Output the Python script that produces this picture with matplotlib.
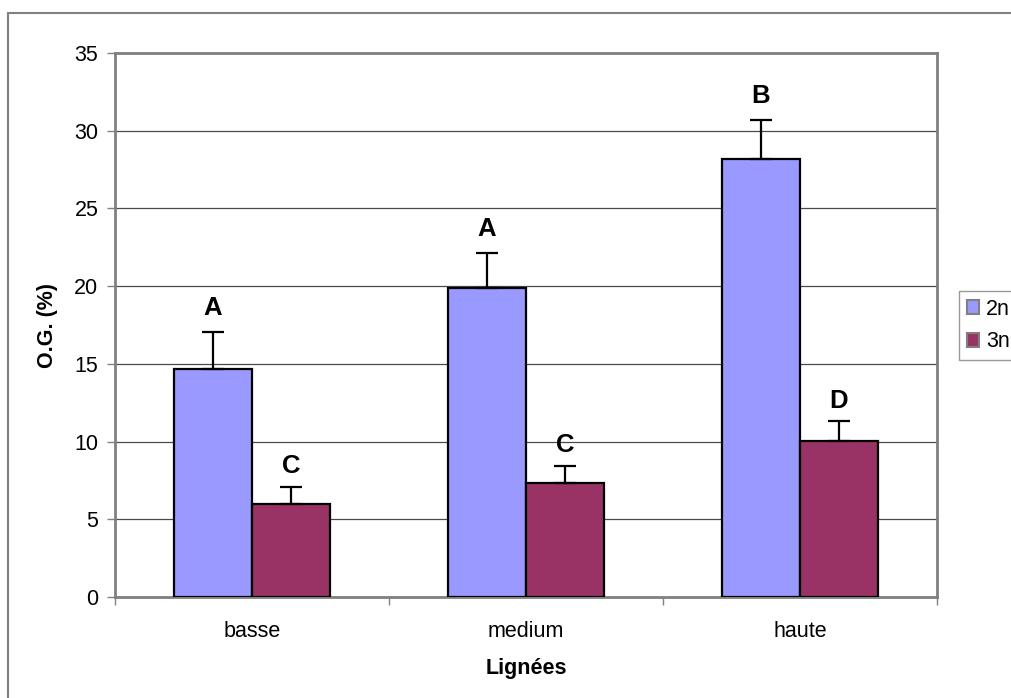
import matplotlib
matplotlib.use("Agg")
import matplotlib.pyplot as plt
from matplotlib.patches import Rectangle, Patch
import numpy as np

plt.rcParams['font.family'] = ['Liberation Sans', 'DejaVu Sans']

# Data
categories = ["basse", "medium", "haute"]
series_names = ["2n", "3n"]
values_2n = [14.7, 19.9, 28.15]
values_3n = [6.0, 7.35, 10.05]
err_2n = [2.35, 2.25, 2.55]
err_3n = [1.1, 1.1, 1.25]
letters_2n = ["A", "A", "B"]
letters_3n = ["C", "C", "D"]
yticks = [0, 5, 10, 15, 20, 25, 30, 35]

W, H = 1012, 698
fig = plt.figure(figsize=(W / 100, H / 100), dpi=100)

# Outer chart frame
fig.patches.append(Rectangle((8 / W, -0.1), 1.2, (H - 13) / H + 0.1,
                             transform=fig.transFigure, fill=False,
                             edgecolor="#808080", linewidth=1.5))

ax = fig.add_axes([115 / W, (H - 597) / H, 822 / W, 544 / H])

x = np.arange(len(categories))
bw = 0.285
c2, c3 = "#9999FF", "#993366"

ax.bar(x - bw / 2, values_2n, bw, color=c2, edgecolor="black", linewidth=1.6, zorder=3)
ax.bar(x + bw / 2, values_3n, bw, color=c3, edgecolor="black", linewidth=1.6, zorder=3)

ekw = dict(fmt="none", ecolor="black", elinewidth=1.6, capsize=8, capthick=1.6, zorder=4)
ax.errorbar(x - bw / 2, values_2n, yerr=[np.zeros(3), err_2n], **ekw)
ax.errorbar(x + bw / 2, values_3n, yerr=[np.zeros(3), err_3n], **ekw)

for xi, v, e, t in zip(x - bw / 2, values_2n, err_2n, letters_2n):
    ax.annotate(t, (xi, v + e), xytext=(0, 17), textcoords="offset points",
                ha="center", va="center", fontsize=18.5, fontweight="bold", zorder=5)
for xi, v, e, t in zip(x + bw / 2, values_3n, err_3n, letters_3n):
    ax.annotate(t, (xi, v + e), xytext=(0, 15), textcoords="offset points",
                ha="center", va="center", fontsize=18.5, fontweight="bold", zorder=5)

ax.set_xlim(-0.5, len(categories) - 0.5)
ax.set_ylim(0, 35)
ax.set_yticks(yticks)
ax.set_yticklabels([str(t) for t in yticks], fontsize=15.5)
ax.yaxis.grid(True, color="#4a4a4a", linewidth=0.9, zorder=0)
ax.set_axisbelow(True)

# Category boundaries carry the ticks, labels sit at the centres
ax.set_xticks(np.arange(-0.5, len(categories), 1.0))
ax.set_xticklabels([])
ax.set_xticks(x, minor=True)
ax.set_xticklabels(categories, minor=True, fontsize=15.5)
ax.tick_params(axis="x", which="minor", length=0, pad=17)
ax.tick_params(axis="x", which="major", length=6, color="#808080", width=1)
ax.tick_params(axis="y", length=6, color="#808080", width=1, pad=6)

for s in ax.spines.values():
    s.set_color("#808080")
    s.set_linewidth(2)

ax.set_xlabel("Lignées", fontsize=15.5, fontweight="bold", labelpad=12)
ax.set_ylabel("O.G. (%)", fontsize=15.5, fontweight="bold", labelpad=12)

handles = [Patch(facecolor=c2, edgecolor="#808080", linewidth=1.5),
           Patch(facecolor=c3, edgecolor="#808080", linewidth=1.5)]
leg = fig.legend(handles, series_names, loc="upper left",
                 bbox_to_anchor=(959 / W, 1 - 291 / H), fontsize=15.5,
                 frameon=True, fancybox=False, handlelength=0.6, handleheight=0.6,
                 handletextpad=0.3, borderpad=0.35, labelspacing=0.55, borderaxespad=0)
leg.get_frame().set_edgecolor("#808080")
leg.get_frame().set_linewidth(1)

fig.savefig("out.png", dpi=100)
